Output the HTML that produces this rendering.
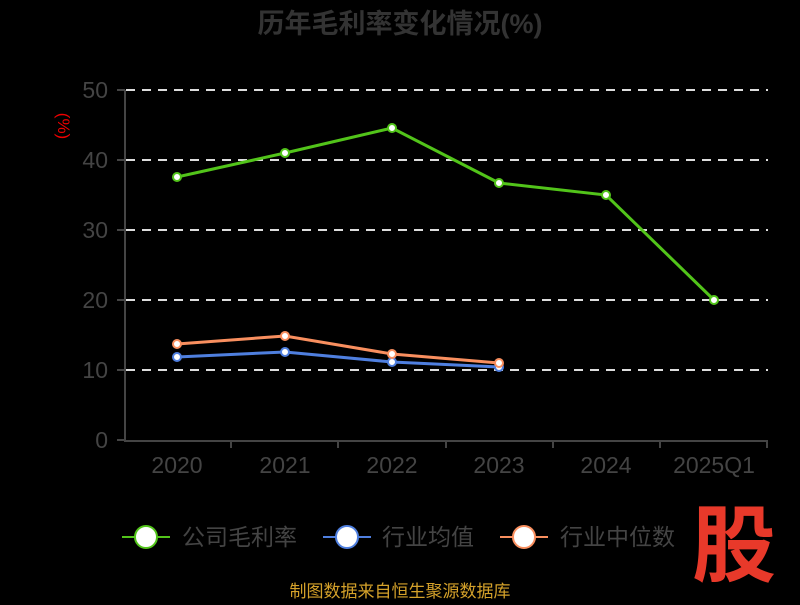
<!DOCTYPE html>
<html><head><meta charset="utf-8"><style>
body{margin:0;background:#000;width:800px;height:600px;overflow:hidden;font-family:"Liberation Sans","Noto Sans CJK SC",sans-serif}
</style></head><body>
<svg width="800" height="600" xmlns="http://www.w3.org/2000/svg" font-family="Liberation Sans, Noto Sans CJK SC, sans-serif">
<text x="400" y="33" text-anchor="middle" font-size="27" font-weight="bold" fill="#333">历年毛利率变化情况(%)</text>
<text transform="translate(58,126) rotate(90)" text-anchor="middle" font-size="17" fill="#e00">(%)</text>
<g stroke="#ddd" stroke-width="2" stroke-dasharray="9,7">
<line x1="126" y1="90" x2="768" y2="90"/><line x1="126" y1="160" x2="768" y2="160"/><line x1="126" y1="230" x2="768" y2="230"/><line x1="126" y1="300" x2="768" y2="300"/><line x1="126" y1="370" x2="768" y2="370"/>
</g>
<g stroke="#444" stroke-width="2">
<line x1="125" y1="90" x2="125" y2="441"/><line x1="124" y1="441" x2="768" y2="441"/>
<line x1="117" y1="90" x2="125" y2="90"/><line x1="117" y1="160" x2="125" y2="160"/><line x1="117" y1="230" x2="125" y2="230"/><line x1="117" y1="300" x2="125" y2="300"/><line x1="117" y1="370" x2="125" y2="370"/><line x1="117" y1="440" x2="125" y2="440"/>
<line x1="231" y1="441" x2="231" y2="448"/><line x1="338" y1="441" x2="338" y2="448"/><line x1="446" y1="441" x2="446" y2="448"/><line x1="553" y1="441" x2="553" y2="448"/><line x1="660" y1="441" x2="660" y2="448"/><line x1="767" y1="441" x2="767" y2="448"/>
</g>
<g font-size="23" fill="#444" text-anchor="end">
<text x="108" y="98">50</text><text x="108" y="168">40</text><text x="108" y="238">30</text><text x="108" y="308">20</text><text x="108" y="378">10</text><text x="108" y="448">0</text>
</g>
<g font-size="23" fill="#444" text-anchor="middle">
<text x="177" y="473">2020</text><text x="285" y="473">2021</text><text x="392" y="473">2022</text><text x="499" y="473">2023</text><text x="606" y="473">2024</text><text x="714" y="473">2025Q1</text>
</g>
<polyline points="177,357 285,352 392,362 499,367" fill="none" stroke="#4f7fdf" stroke-width="3"/>
<polyline points="177,344 285,336 392,354 499,363" fill="none" stroke="#f98f5f" stroke-width="3"/>
<polyline points="177,177 285,153 392,128 499,183 606,195 714,300" fill="none" stroke="#52c41a" stroke-width="3"/>
<g fill="#fff" stroke="#4f7fdf" stroke-width="2"><circle cx="177" cy="357" r="4"/><circle cx="285" cy="352" r="4"/><circle cx="392" cy="362" r="4"/><circle cx="499" cy="367" r="4"/></g>
<g fill="#fff" stroke="#f98f5f" stroke-width="2"><circle cx="177" cy="344" r="4"/><circle cx="285" cy="336" r="4"/><circle cx="392" cy="354" r="4"/><circle cx="499" cy="363" r="4"/></g>
<g fill="#fff" stroke="#52c41a" stroke-width="2"><circle cx="177" cy="177" r="4"/><circle cx="285" cy="153" r="4"/><circle cx="392" cy="128" r="4"/><circle cx="499" cy="183" r="4"/><circle cx="606" cy="195" r="4"/><circle cx="714" cy="300" r="4"/></g>
<g font-size="23" fill="#444">
<line x1="122" y1="537" x2="170" y2="537" stroke="#52c41a" stroke-width="2"/><circle cx="146" cy="537" r="11" fill="#fff" stroke="#52c41a" stroke-width="2"/><text x="182" y="545">公司毛利率</text>
<line x1="323" y1="537" x2="371" y2="537" stroke="#4f7fdf" stroke-width="2"/><circle cx="347" cy="537" r="11" fill="#fff" stroke="#4f7fdf" stroke-width="2"/><text x="382" y="545">行业均值</text>
<line x1="500" y1="537" x2="548" y2="537" stroke="#f98f5f" stroke-width="2"/><circle cx="524" cy="537" r="11" fill="#fff" stroke="#f98f5f" stroke-width="2"/><text x="560" y="545">行业中位数</text>
</g>
<text x="734" y="575" text-anchor="middle" font-size="84" font-weight="bold" fill="#e8392a">股</text>
<text x="400" y="597" text-anchor="middle" font-size="17" fill="#d4a12a">制图数据来自恒生聚源数据库</text>
</svg>
</body></html>
